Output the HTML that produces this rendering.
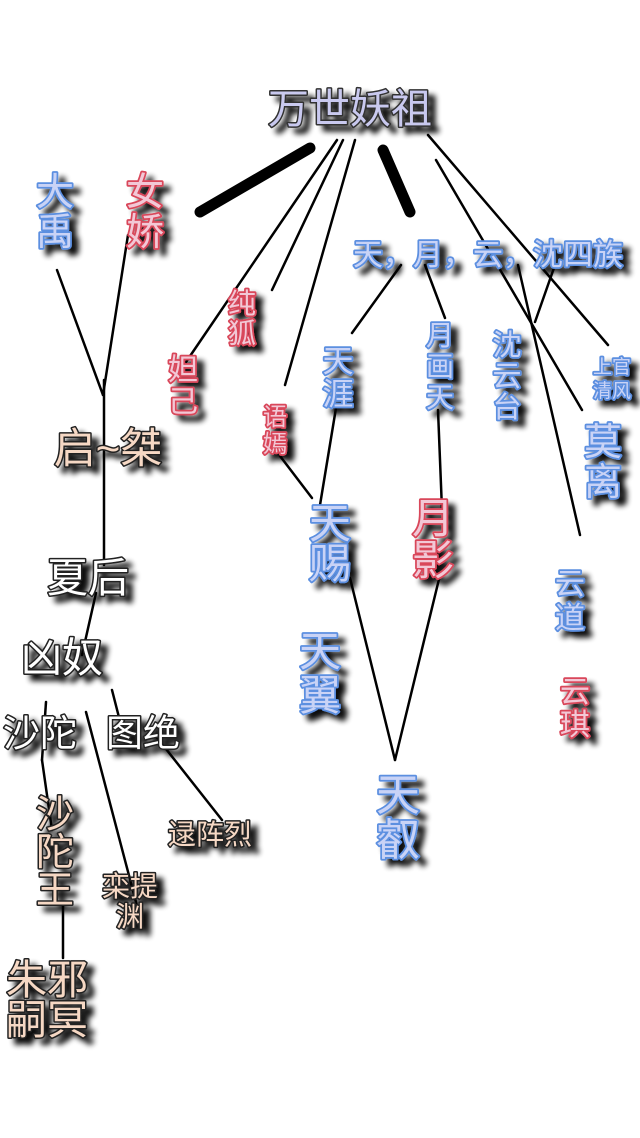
<!DOCTYPE html>
<html><head><meta charset="utf-8"><style>
html,body{margin:0;padding:0;background:#fff;width:640px;height:1138px;overflow:hidden}
svg text{font-family:"Liberation Sans","Noto Sans CJK SC",sans-serif;text-anchor:middle;paint-order:stroke;stroke-linejoin:round}
.b{fill:#c9d3f6;stroke:#5b8fe0;stroke-width:3.5}
.r{fill:#f2c8d6;stroke:#d9475a;stroke-width:3.5}
.t{fill:#f6d8c4;stroke:#222;stroke-width:3}
.w{fill:#fff;stroke:#222;stroke-width:3}
.p{fill:#c9c9ef;stroke:#333;stroke-width:3}
</style></head><body>
<svg width="640" height="1138" xmlns="http://www.w3.org/2000/svg">
<defs><filter id="s" x="-30%" y="-30%" width="160%" height="160%">
<feGaussianBlur in="SourceAlpha" stdDeviation="3"/><feOffset dx="7" dy="6" result="o"/>
<feComponentTransfer><feFuncA type="linear" slope="0.95"/></feComponentTransfer>
<feMerge><feMergeNode/><feMergeNode in="SourceGraphic"/></feMerge></filter></defs>
<g stroke="#000" stroke-width="2.5" stroke-linecap="round" fill="none">
<line x1="200" y1="212" x2="310" y2="148" stroke-width="11"/>
<line x1="383" y1="150" x2="410" y2="212" stroke-width="11"/>
<line x1="337" y1="140" x2="186" y2="362"/>
<line x1="343" y1="140" x2="272" y2="290"/>
<line x1="355" y1="140" x2="285" y2="385"/>
<line x1="428" y1="135" x2="608" y2="345"/>
<line x1="436" y1="160" x2="582" y2="410"/>
<line x1="518" y1="265" x2="580" y2="535"/>
<line x1="555" y1="265" x2="535" y2="322"/>
<line x1="401" y1="265" x2="352" y2="333"/>
<line x1="425" y1="265" x2="445" y2="318"/>
<line x1="336" y1="408" x2="320" y2="505"/>
<line x1="280" y1="456" x2="312" y2="498"/>
<line x1="438" y1="410" x2="442" y2="510"/>
<line x1="350" y1="578" x2="395" y2="760"/>
<line x1="440" y1="575" x2="395" y2="760"/>
<line x1="57" y1="270" x2="103" y2="395"/>
<line x1="128" y1="235" x2="103" y2="395"/>
<line x1="104" y1="380" x2="104" y2="565"/>
<line x1="96" y1="593" x2="82" y2="655"/>
<line x1="46" y1="702" x2="42" y2="760"/>
<line x1="42" y1="760" x2="52" y2="830"/>
<line x1="112" y1="690" x2="123" y2="733"/>
<line x1="86" y1="712" x2="142" y2="925"/>
<line x1="155" y1="735" x2="222" y2="820"/>
<line x1="63" y1="905" x2="63" y2="958"/>
</g>
<g filter="url(#s)">
<text class="p" x="350" y="123" font-size="41">万世妖祖</text>
<text class="b" x="55" y="205" font-size="38">大</text><text class="b" x="55" y="245" font-size="38">禹</text>
<text class="r" x="145" y="205" font-size="38">女</text><text class="r" x="145" y="245" font-size="38">娇</text>
<text class="b" x="488" y="265" font-size="30">天，月，云，沈四族</text>
<text class="r" x="242" y="313" font-size="28">纯</text><text class="r" x="242" y="343" font-size="28">狐</text>
<text class="r" x="183" y="380" font-size="30">妲</text><text class="r" x="183" y="412" font-size="30">己</text>
<text class="r" x="275" y="425" font-size="24">语</text><text class="r" x="275" y="452" font-size="24">嫣</text>
<text class="b" x="338" y="372" font-size="31">天</text><text class="b" x="338" y="405" font-size="31">涯</text>
<text class="b" x="440" y="345" font-size="28">月</text><text class="b" x="440" y="376" font-size="28">画</text><text class="b" x="440" y="407" font-size="28">天</text>
<text class="b" x="507" y="355" font-size="29">沈</text><text class="b" x="507" y="386" font-size="29">云</text><text class="b" x="507" y="417" font-size="29">台</text>
<text class="b" x="612" y="373" font-size="19">上官</text><text class="b" x="612" y="397" font-size="19">清风</text>
<text class="b" x="603" y="455" font-size="38">莫</text><text class="b" x="603" y="495" font-size="38">离</text>
<text class="b" x="330" y="538" font-size="42">天</text><text class="b" x="330" y="578" font-size="42">赐</text>
<text class="r" x="433" y="533" font-size="42">月</text><text class="r" x="433" y="575" font-size="42">影</text>
<text class="b" x="570" y="594" font-size="30">云</text><text class="b" x="570" y="628" font-size="30">道</text>
<text class="r" x="575" y="702" font-size="30">云</text><text class="r" x="575" y="735" font-size="30">琪</text>
<text class="b" x="320" y="666" font-size="42">天</text><text class="b" x="320" y="710" font-size="42">翼</text>
<text class="b" x="398" y="810" font-size="44">天</text><text class="b" x="398" y="855" font-size="44">叡</text>
<text class="t" x="108" y="463" font-size="42">启~桀</text>
<text class="w" x="88" y="592" font-size="41">夏后</text>
<text class="w" x="62" y="672" font-size="41">凶奴</text>
<text class="w" x="40" y="746" font-size="37">沙陀</text>
<text class="w" x="143" y="746" font-size="37">图绝</text>
<text class="t" x="55" y="827" font-size="38">沙</text><text class="t" x="55" y="865" font-size="38">陀</text><text class="t" x="55" y="903" font-size="38">王</text>
<text class="t" x="210" y="844" font-size="28">逯阵烈</text>
<text class="t" x="130" y="896" font-size="28">栾提</text><text class="t" x="130" y="926" font-size="28">渊</text>
<text class="t" x="47" y="994" font-size="41">朱邪</text><text class="t" x="47" y="1034" font-size="41">嗣冥</text>
</g>
</svg>
</body></html>
